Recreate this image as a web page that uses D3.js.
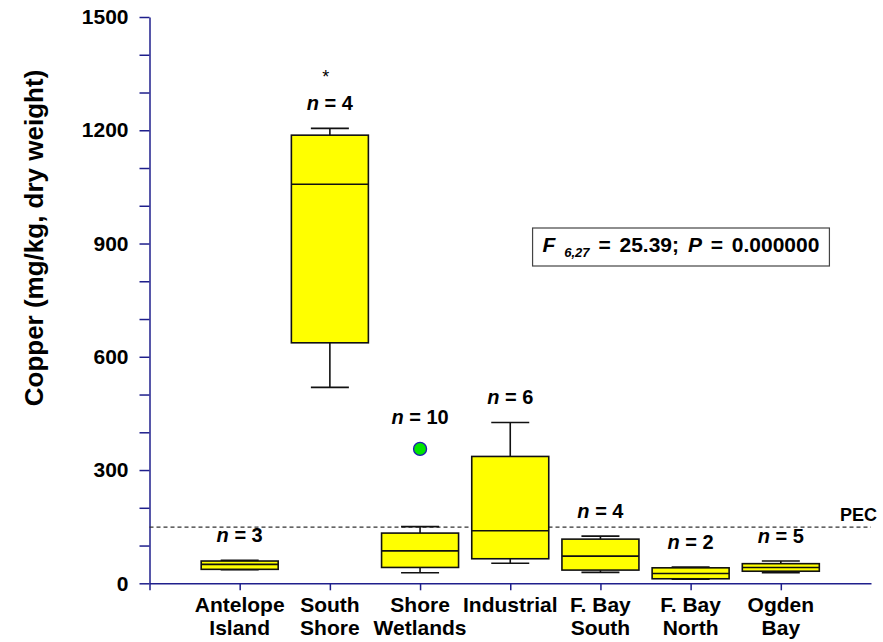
<!DOCTYPE html>
<html>
<head>
<meta charset="utf-8">
<script src="https://cdn.jsdelivr.net/npm/d3@7"></script>
<style>
  body { margin: 0; background: #fff; }
  text { font-family: "Liberation Sans", Arial, Helvetica, sans-serif; font-weight: bold; fill: #000; }
</style>
</head>
<body>
<svg id="chart" width="883" height="642"></svg>
<script>
// Sampling areas (label lines) and their box-plot summaries, copper in mg/kg dry weight
const sites = [["Antelope", "Island"], ["South", "Shore"], ["Shore", "Wetlands"], ["Industrial"],
               ["F. Bay", "South"], ["F. Bay", "North"], ["Ogden", "Bay"]];
const sampleSizes  = [3, 4, 10, 6, 4, 2, 5];
const whiskerLow   = [36, 519, 28, 53, 29, 11, 28];
const quartile1    = [37, 637, 42, 65, 35, 12, 32];
const medians      = [50, 1057, 86, 139, 72, 26, 42];
const quartile3    = [59, 1187, 133, 336, 117, 41, 52];
const whiskerHigh  = [61, 1205, 150, 426, 125, 43, 59];
const outliers     = [[], [], [356], [], [], [], []];
const flags        = ["", "*", "", "", "", "", ""];
const yTicks       = [0, 300, 600, 900, 1200, 1500];
const yMinorTicks  = d3.range(0, 1501, 100);
const pecValue     = 149;
const anova        = { df1: 6, df2: 27, F: "25.39", P: "0.000000" };

const svg = d3.select("#chart");
const axisColor = "#1f1f8c";

const x = d3.scaleLinear().domain([0, 8]).range([149.5, 871]);
const y = d3.scaleLinear().domain([0, 1500]).range([583.3, 17]);
const boxW = 77, capW = 38;

// y axis
const yAxis = svg.append("g").attr("transform", `translate(${x(0)},0)`)
  .call(d3.axisLeft(y).tickValues(yMinorTicks).tickSize(10).tickSizeOuter(0).tickPadding(11)
    .tickFormat(d => yTicks.includes(d) ? d : ""));
yAxis.selectAll("path, line").attr("stroke", axisColor).attr("stroke-width", 1.5);
yAxis.selectAll("text").style("font-size", "21px")
  .style("font-family", "'Liberation Sans', Arial, sans-serif").style("font-weight", "bold").attr("fill", "#000");

// x axis
const xAxis = svg.append("g").attr("transform", `translate(0,${y(0)})`)
  .call(d3.axisBottom(x).tickValues(d3.range(0, 8)).tickSize(7).tickSizeOuter(0).tickFormat(""));
xAxis.selectAll("path, line").attr("stroke", axisColor).attr("stroke-width", 1.5);

// category labels
sites.forEach((lines, i) => {
  const t = svg.append("text").attr("text-anchor", "middle").style("font-size", "21px");
  lines.forEach((s, k) => {
    t.append("tspan").attr("x", x(i + 1)).attr("y", 612 + k * 23).text(s);
  });
});

// axis title
svg.append("text")
  .attr("transform", `translate(43,238) rotate(-90)`)
  .attr("text-anchor", "middle").style("font-size", "26px")
  .text("Copper (mg/kg, dry weight)");

// PEC reference line
svg.append("line")
  .attr("x1", x(0)).attr("x2", 871).attr("y1", y(pecValue)).attr("y2", y(pecValue))
  .attr("stroke", "#333").attr("stroke-width", 1.3).attr("stroke-dasharray", "4,3");
svg.append("text").attr("x", 877).attr("y", y(pecValue) - 6).attr("text-anchor", "end")
  .style("font-size", "18px").text("PEC");

// box plots
const g = svg.append("g");
sites.forEach((_, i) => {
  const cx = x(i + 1);
  const bg = g.append("g");
  [[whiskerLow[i], quartile1[i]], [quartile3[i], whiskerHigh[i]]].forEach(([a, b]) => {
    bg.append("line").attr("x1", cx).attr("x2", cx).attr("y1", y(a)).attr("y2", y(b))
      .attr("stroke", "#111").attr("stroke-width", 1.6);
  });
  [whiskerLow[i], whiskerHigh[i]].forEach(v => {
    bg.append("line").attr("x1", cx - capW / 2).attr("x2", cx + capW / 2).attr("y1", y(v)).attr("y2", y(v))
      .attr("stroke", "#111").attr("stroke-width", 1.6);
  });
  bg.append("rect").attr("x", cx - boxW / 2).attr("width", boxW)
    .attr("y", y(quartile3[i])).attr("height", y(quartile1[i]) - y(quartile3[i]))
    .attr("fill", "#ffff00").attr("stroke", "#111").attr("stroke-width", 1.6);
  bg.append("line").attr("x1", cx - boxW / 2).attr("x2", cx + boxW / 2)
    .attr("y1", y(medians[i])).attr("y2", y(medians[i]))
    .attr("stroke", "#111").attr("stroke-width", 1.6);
  outliers[i].forEach(v => {
    bg.append("circle").attr("cx", cx).attr("cy", y(v)).attr("r", 6.5)
      .attr("fill", "#00e600").attr("stroke", "#1d1db0").attr("stroke-width", 1.3);
  });

  // sample size label above the highest mark
  const topVal = d3.max([whiskerHigh[i], ...outliers[i]]);
  const topY = y(topVal) - (outliers[i].length ? 7 : 0);
  const baseY = topY - 18;
  const n = svg.append("text").attr("x", cx).attr("y", baseY).attr("text-anchor", "middle")
    .style("font-size", "20px");
  n.append("tspan").style("font-style", "italic").text("n");
  n.append("tspan").text(" = " + sampleSizes[i]);
  if (flags[i]) {
    svg.append("text").attr("x", cx - 4).attr("y", baseY - 27).attr("text-anchor", "middle")
      .style("font-size", "18px").style("font-weight", "normal").text(flags[i]);
  }
});

// ANOVA result box
const statG = svg.append("g");
const stat = statG.append("text").attr("x", 681).attr("y", 252).attr("text-anchor", "middle")
  .style("font-size", "21px").style("word-spacing", "3px");
stat.append("tspan").style("font-style", "italic").text("F ");
stat.append("tspan").style("font-style", "italic").style("font-size", "13px").attr("dy", 5)
  .text(`${anova.df1},${anova.df2}`);
stat.append("tspan").attr("dy", -5).text(` = ${anova.F}; `);
stat.append("tspan").style("font-style", "italic").text("P");
stat.append("tspan").text(` = ${anova.P}`);
const bb = stat.node().getBBox();
statG.insert("rect", () => stat.node()).attr("x", bb.x - 10).attr("y", bb.y - 5)
  .attr("width", bb.width + 20).attr("height", bb.height + 11)
  .attr("fill", "#fff").attr("stroke", "#444").attr("stroke-width", 1.2);
</script>
</body>
</html>
